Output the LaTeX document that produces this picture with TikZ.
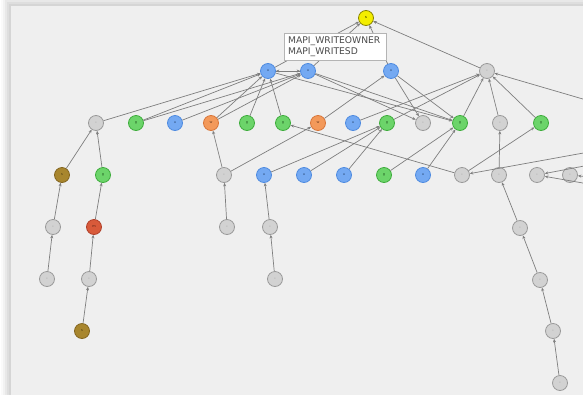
\documentclass[tikz,border=0pt]{standalone}
\usepackage{fontspec}
\setmainfont{DejaVu Sans}
\usetikzlibrary{arrows.meta}
\definecolor{panel}{HTML}{EFEFEF}
\definecolor{edgec}{HTML}{7E7E7E}
\definecolor{grayf}{HTML}{D2D2D2}
\definecolor{grayd}{HTML}{9A9A9A}
\definecolor{bluef}{HTML}{74A9F2}
\definecolor{blued}{HTML}{4F8BE0}
\definecolor{greenf}{HTML}{6CD46A}
\definecolor{greend}{HTML}{3EAD3C}
\definecolor{orangef}{HTML}{F3995A}
\definecolor{oranged}{HTML}{D9763A}
\definecolor{redf}{HTML}{D85A3A}
\definecolor{redd}{HTML}{B0402A}
\definecolor{brownf}{HTML}{A8862E}
\definecolor{brownd}{HTML}{846620}
\definecolor{yellowf}{HTML}{F4EE00}
\definecolor{yellowd}{HTML}{8C8600}
\definecolor{tipline}{HTML}{B4B4B4}
\definecolor{tipink}{HTML}{4A4A4A}
\tikzset{
  vtx/.style={circle, minimum size=15pt, inner sep=0pt, line width=0.8pt,
    font=\fontsize{3.5}{3.5}\selectfont},
  gy/.style={vtx, fill=grayf, draw=grayd, text=grayd!60!black},
  bl/.style={vtx, fill=bluef, draw=blued, text=blued!50!black},
  gr/.style={vtx, fill=greenf, draw=greend, text=greend!50!black},
  og/.style={vtx, fill=orangef, draw=oranged, text=oranged!50!black},
  rd/.style={vtx, fill=redf, draw=redd, text=redd!50!black},
  bn/.style={vtx, fill=brownf, draw=brownd, text=brownd!50!black},
  yl/.style={vtx, fill=yellowf, draw=yellowd, text=black},
  link/.style={draw=edgec, line width=0.7pt, -{Stealth[length=3.5pt,width=3pt]}},
  tipbox/.style={draw=tipline, fill=white, line width=0.6pt},
  tiptext/.style={font=\fontsize{9.2}{11}\selectfont, text=tipink, anchor=west, inner sep=0pt}
}
\begin{document}
\begin{tikzpicture}[x=1pt, y=-1pt]
\useasboundingbox (0,0) rectangle (583,394);
\clip (0,0) rectangle (583,394);
% page and panel with soft shadow
\fill[white] (0,0) rectangle (583,394);
\fill[black, opacity=0.02] (1,-4) rectangle (600,410);
\fill[black, opacity=0.03] (3,-2) rectangle (600,410);
\fill[black, opacity=0.04] (5,0) rectangle (600,410);
\fill[black, opacity=0.04] (7,2) rectangle (600,410);
\fill[black, opacity=0.04] (9,4) rectangle (600,410);
\fill[panel] (11,6) rectangle (600,410);

% vertices
\node[yl] (top) at (366,18) {s};
\node[bl] (b1) at (268,71) {u};
\node[bl] (b2) at (308,71) {u};
\node[bl] (b3) at (391,71) {u};
\node[gy] (c1) at (487,71) {-};

\node[gy] (p1) at (96,123) {-};
\node[gr] (p2) at (136,123) {g};
\node[bl] (p3) at (175,123) {u};
\node[og] (p4) at (211,123) {w};
\node[gr] (p5) at (247,123) {g};
\node[gr] (p6) at (283,123) {g};
\node[og] (p7) at (318,123) {w};
\node[bl] (p8) at (353,123) {u};
\node[gr] (p9) at (387,123) {g};
\node[gy] (p10) at (423,123) {-};
\node[gr] (p11) at (460,123) {g};
\node[gy] (p12) at (500,123) {-};
\node[gr] (p13) at (541,123) {g};

\node[bn] (q1) at (62,175) {s};
\node[gr] (q2) at (103,175) {g};
\node[gy] (q3) at (224,175) {-};
\node[bl] (q4) at (264,175) {u};
\node[bl] (q5) at (304,175) {u};
\node[bl] (q6) at (344,175) {u};
\node[gr] (q7) at (384,175) {g};
\node[bl] (q8) at (423,175) {u};
\node[gy] (q9) at (462,175) {-};
\node[gy] (q10) at (499,175) {-};
\node[gy] (q11) at (537,175) {-};
\node[gy] (q12) at (570,175) {-};

\node[gy] (s1) at (53,227) {-};
\node[rd] (s2) at (94,227) {m};
\node[gy] (s3) at (227,227) {-};
\node[gy] (s4) at (270,227) {-};
\node[gy] (s5) at (520,228) {-};

\node[gy] (t1) at (47,279) {-};
\node[gy] (t2) at (89,279) {-};
\node[gy] (t3) at (275,279) {-};
\node[gy] (t4) at (540,280) {-};

\node[bn] (u1) at (82,331) {s};
\node[gy] (u2) at (553,331) {-};
\node[gy] (w1) at (560,383) {-};

% loose ends leaving the panel on the right
\coordinate (e1) at (600,104);
\coordinate (e2) at (600,150);
\coordinate (e3) at (600,163);
\coordinate (e4) at (600,186);
\coordinate (e5) at (600,178);

% connectors
\draw[link] (b1) -- (top);
\draw[link] (b2) -- (top);
\draw[link] (b3) -- (top);
\draw[link] (c1) -- (top);
\draw[link] (b2) -- (b1);
\draw[link] (b1) -- (b2);
\draw[link] (e1) -- (c1);

\draw[link] (p1) -- (b1);
\draw[link] (p2) -- (b1);
\draw[link] (p2) -- (b2);
\draw[link] (p3) -- (b2);
\draw[link] (p4) -- (b1);
\draw[link] (p4) -- (b2);
\draw[link] (p5) -- (b1);
\draw[link] (p6) -- (b1);
\draw[link] (p7) -- (b3);
\draw[link] (p8) -- (c1);
\draw[link] (p9) -- (c1);
\draw[link] (p11) -- (c1);
\draw[link] (p12) -- (c1);
\draw[link] (p13) -- (c1);
\draw[link] (b1) -- (p11);
\draw[link] (b2) -- (p11);
\draw[link] (b2) -- (p10);
\draw[link] (b3) -- (p10);
\draw[link] (b3) -- (p11);

\draw[link] (q1) -- (p1);
\draw[link] (q2) -- (p1);
\draw[link] (q3) -- (p4);
\draw[link] (q3) -- (p7);
\draw[link] (q4) -- (p9);
\draw[link] (q5) -- (p9);
\draw[link] (q6) -- (p9);
\draw[link] (q7) -- (p11);
\draw[link] (q8) -- (p11);
\draw[link] (q9) -- (p6);
\draw[link] (q9) -- (p13);
\draw[link] (e2) -- (q9);
\draw[link] (q10) -- (p12);
\draw[link] (e3) -- (q11);
\draw[link] (e4) -- (q11);
\draw[link] (e5) -- (q12);

\draw[link] (s1) -- (q1);
\draw[link] (s2) -- (q2);
\draw[link] (s3) -- (q3);
\draw[link] (s4) -- (q4);
\draw[link] (s5) -- (q10);
\draw[link] (t1) -- (s1);
\draw[link] (t2) -- (s2);
\draw[link] (t3) -- (s4);
\draw[link] (t4) -- (s5);
\draw[link] (u1) -- (t2);
\draw[link] (u2) -- (t4);
\draw[link] (w1) -- (u2);

% hover label
\draw[tipbox] (284,33) rectangle (386,60);
\node[tiptext] (lab1) at (288,41.5) {MAPI\_WRITEOWNER};
\node[tiptext] (lab2) at (288,52.5) {MAPI\_WRITESD};
\end{tikzpicture}
\end{document}
